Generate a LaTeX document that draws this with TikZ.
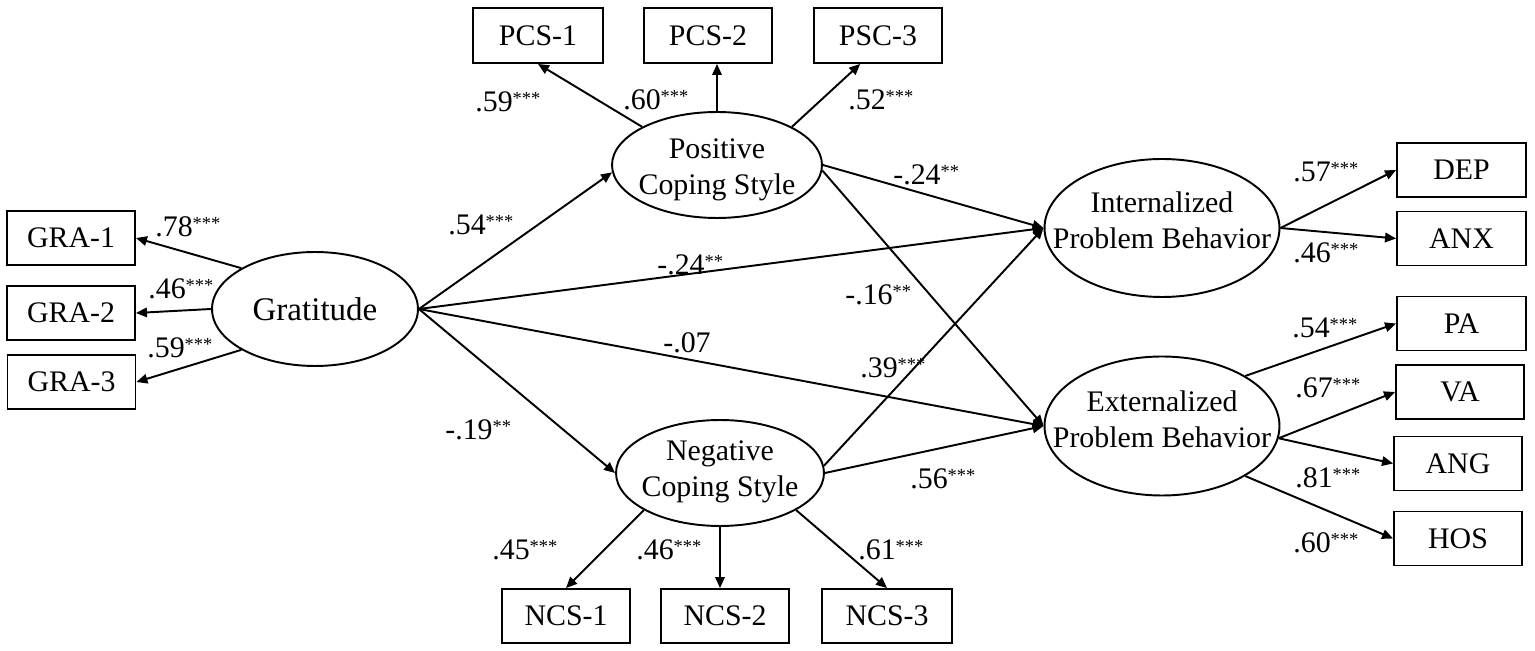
\documentclass[tikz,border=0pt]{standalone}
\usepackage{fontspec}
\setmainfont{Liberation Serif}
\usetikzlibrary{arrows.meta,shapes.geometric}
\newcommand\sig[1]{\raisebox{4.5pt}{\fontsize{10.5}{10}\selectfont #1}}
\begin{document}
\begin{tikzpicture}[x=0.02cm,y=-0.02cm,
  box/.style={draw, line width=1.1pt, minimum width=2.56cm, minimum height=1.08cm, inner sep=0, font=\fontsize{17}{20}\selectfont},
  lat/.style={draw, ellipse, line width=1.1pt, inner sep=0},
  lattext/.style={align=center, font=\fontsize{17}{20.5}\selectfont, inner sep=0},
  lab/.style={inner sep=0, anchor=base west, font=\fontsize{17}{20}\selectfont},
  arr/.style={line width=1.1pt, -{Triangle[length=0.22cm,width=0.19cm]}}]
\fill[white] (0,0) rectangle (1535,651);
\useasboundingbox (0,0) rectangle (1535,651);

% latent variables
\node[lat, minimum width=4.12cm, minimum height=2.28cm, font=\fontsize{18.8}{22}\selectfont] (grat) at (315,309) {Gratitude};
\node[lat, minimum width=4.2cm, minimum height=2.12cm, label={[lattext, yshift=-0.1cm]center:{Positive\\Coping Style}}] (pos) at (717,165) {};
\node[lat, minimum width=4.16cm, minimum height=2.12cm, label={[lattext, yshift=0.03cm]center:{Negative\\Coping Style}}] (neg) at (720,473) {};
\node[lat, minimum width=4.7cm, minimum height=2.76cm, label={[lattext, yshift=0.16cm]center:{Internalized\\Problem Behavior}}] (int) at (1162,228) {};
\node[lat, minimum width=4.7cm, minimum height=2.78cm, label={[lattext, yshift=0.14cm]center:{Externalized\\Problem Behavior}}] (ext) at (1162,426) {};

% indicators
\node[box] (GRA1) at (71,238) {GRA-1};
\node[box] (GRA2) at (71,313) {GRA-2};
\node[box] (GRA3) at (71.5,382) {GRA-3};
\node[box, minimum width=2.6cm, minimum height=1.1cm] (PCS1) at (538,35.5) {PCS-1};
\node[box, minimum height=1.1cm] (PCS2) at (708,35.5) {PCS-2};
\node[box, minimum height=1.1cm] (PSC3) at (878,35.5) {PSC-3};
\node[box] (NCS1) at (566,616) {NCS-1};
\node[box] (NCS2) at (725,616) {NCS-2};
\node[box, minimum width=2.6cm] (NCS3) at (887,616) {NCS-3};
\node[box, minimum width=2.58cm] (DEP) at (1461.5,170) {DEP};
\node[box, minimum width=2.58cm] (ANX) at (1461.5,238.5) {ANX};
\node[box, minimum width=2.58cm] (PA) at (1461.5,323.5) {PA};
\node[box] (VA) at (1460,392) {VA};
\node[box] (ANG) at (1458,463.5) {ANG};
\node[box] (HOS) at (1458,538.5) {HOS};

% measurement arrows
\draw[arr] (grat.151) -- (GRA1.east);
\draw[arr] (grat.west) -- (GRA2.east);
\draw[arr] (grat.209) -- (GRA3.east);
\draw[arr] (pos.153) -- (PCS1.south);
\draw[arr] (pos.north) -- (pos.north |- PCS2.south);
\draw[arr] (pos.27) -- (PSC3.238);
\draw[arr] (neg.206) -- (NCS1.north);
\draw[arr] (neg.south) -- (neg.south |- NCS2.north);
\draw[arr] (neg.334) -- (NCS3.north);
\draw[arr] (int.east) -- (DEP.west);
\draw[arr] (int.east) -- (ANX.west);
\draw[arr] (ext.31) -- (PA.west);
\draw[arr] (ext.354) -- (VA.west);
\draw[arr] (ext.354) -- (ANG.west);
\draw[arr] (ext.329) -- (HOS.west);

% structural arrows
\draw[arr] (grat.east) -- (pos.184);
\draw[arr] (grat.east) -- (neg.west);
\draw[arr] (grat.east) -- (int.west);
\draw[arr] (grat.east) -- (ext.west);
\draw[arr] (pos.east) -- (int.west);
\draw[arr] (pos.357) -- (ext.west);
\draw[arr] (neg.4) -- (int.west);
\draw[arr] (neg.east) -- (ext.west);

% labels
\node[lab] (l1) at (155,237) {.78\sig{***}};
\node[lab] (l2) at (148,299) {.46\sig{***}};
\node[lab] (l3) at (147,358) {.59\sig{***}};
\node[lab] (l4) at (475,112) {.59\sig{***}};
\node[lab] (l5) at (623,110) {.60\sig{***}};
\node[lab] (l6) at (848,110) {.52\sig{***}};
\node[lab] (l7) at (448,235) {.54\sig{***}};
\node[lab] (l8) at (657,275) {-.24\sig{**}};
\node[lab] (l9) at (663,353) {-.07};
\node[lab] (l10) at (445,440) {-.19\sig{**}};
\node[lab] (l11) at (893,185) {-.24\sig{**}};
\node[lab] (l12) at (845,305) {-.16\sig{**}};
\node[lab] (l13) at (860,378) {.39\sig{***}};
\node[lab] (l14) at (910,489) {.56\sig{***}};
\node[lab] (l15) at (492,560) {.45\sig{***}};
\node[lab] (l16) at (636,560) {.46\sig{***}};
\node[lab] (l17) at (858,560) {.61\sig{***}};
\node[lab] (l18) at (1293,182) {.57\sig{***}};
\node[lab] (l19) at (1293,263) {.46\sig{***}};
\node[lab] (l20) at (1292,338) {.54\sig{***}};
\node[lab] (l21) at (1295,398) {.67\sig{***}};
\node[lab] (l22) at (1295,488) {.81\sig{***}};
\node[lab] (l23) at (1293,553) {.60\sig{***}};
\end{tikzpicture}
\end{document}
